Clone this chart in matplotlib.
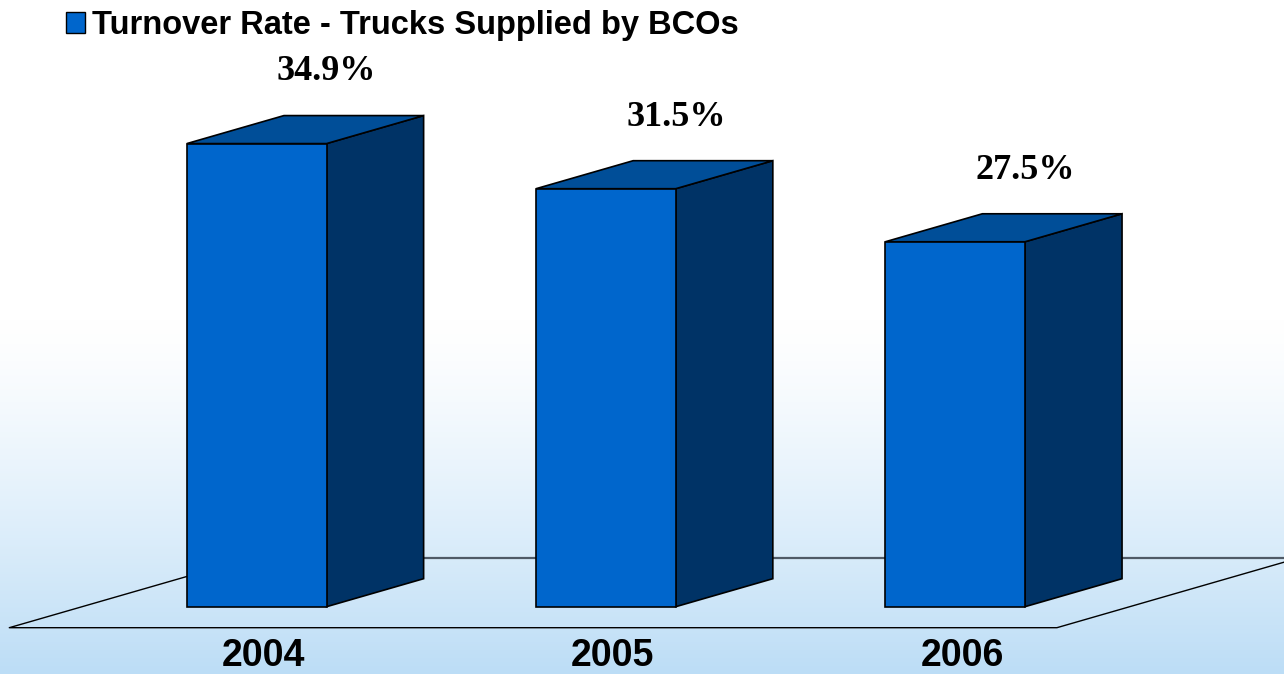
import numpy as np
import matplotlib
matplotlib.use("Agg")
import matplotlib.pyplot as plt
from matplotlib.patches import Polygon, Patch

# ---- data ----
categories = ["2004", "2005", "2006"]
values = [34.9, 31.5, 27.5]
value_labels = ["34.9%", "31.5%", "27.5%"]
series_name = "Turnover Rate - Trucks Supplied by BCOs"

# ---- style ----
FRONT = "#0066CC"
TOP = "#004E98"
SIDE = "#003366"
BAR_W = 0.4
DX, DY = 0.278, 2.11          # 3-D depth offset (x units, value units)

fig = plt.figure(figsize=(12.84, 6.74), dpi=100)
ax = fig.add_axes([0, 0, 1, 1])
ax.set_xlim(-0.7351, 2.9418)
ax.set_ylim(-5.072, 45.72)
ax.axis("off")

# background gradient (white top -> light blue bottom)
h = 674
py = np.arange(h)
t = np.clip((py - 320) / (674 - 320), 0, 1) ** 1.3
top_c = np.array([1.0, 1.0, 1.0])
bot_c = np.array([188, 221, 246]) / 255.0
cols = top_c[None, :] * (1 - t[:, None]) + bot_c[None, :] * t[:, None]
img = np.repeat(cols[:, None, :], 4, axis=1)
ax.imshow(img, extent=(-0.7351, 2.9418, -5.072, 45.72), aspect="auto",
          origin="upper", zorder=0, interpolation="bilinear")

# floor
n = len(categories)
x_left, x_right = -0.5, n - 0.5
d_front, d_back = -0.75, 1.75
fl = (x_left + d_front * DX, d_front * DY)
fr = (x_right + d_front * DX, d_front * DY)
br = (x_right + d_back * DX, d_back * DY)
bl = (x_left + d_back * DX, d_back * DY)
ax.plot([bl[0], br[0]], [bl[1], br[1]], color="#4f5a66", lw=1.6, zorder=1,
        solid_capstyle="butt")
ax.plot([bl[0], fl[0], fr[0], br[0]], [bl[1], fl[1], fr[1], br[1]],
        color="black", lw=1.0, zorder=1)

# bars
for i, v in enumerate(values):
    x0, x1 = i - BAR_W / 2, i + BAR_W / 2
    front = Polygon([(x0, 0), (x1, 0), (x1, v), (x0, v)], closed=True,
                    facecolor=FRONT, edgecolor="black", lw=1.2, zorder=3)
    side = Polygon([(x1, 0), (x1 + DX, DY), (x1 + DX, v + DY), (x1, v)],
                   closed=True, facecolor=SIDE, edgecolor="black", lw=1.2,
                   zorder=3)
    top = Polygon([(x0, v), (x1, v), (x1 + DX, v + DY), (x0 + DX, v + DY)],
                  closed=True, facecolor=TOP, edgecolor="black", lw=1.2,
                  zorder=3)
    for p in (side, top, front):
        ax.add_patch(p)
    ax.text(i + 0.2, v + DY + 2.65, value_labels[i], ha="center",
            va="baseline", fontsize=26, fontweight="bold",
            family="Liberation Serif", zorder=5)
    ax.text(i + 0.02, -4.45, categories[i], ha="center", va="baseline",
            fontsize=27, fontweight="bold", family="Liberation Sans",
            zorder=5)

# legend
handle = Patch(facecolor=FRONT, edgecolor="black", lw=1.0)
leg = ax.legend([handle], [series_name], loc="upper left",
                bbox_to_anchor=(66 / 1284, 1 - 10 / 674), frameon=False,
                prop={"family": "Liberation Sans", "weight": "bold",
                      "size": 23.5},
                handlelength=0.58, handleheight=0.58, handletextpad=0.22,
                borderpad=0, borderaxespad=0)

fig.savefig("out.png", dpi=100)
